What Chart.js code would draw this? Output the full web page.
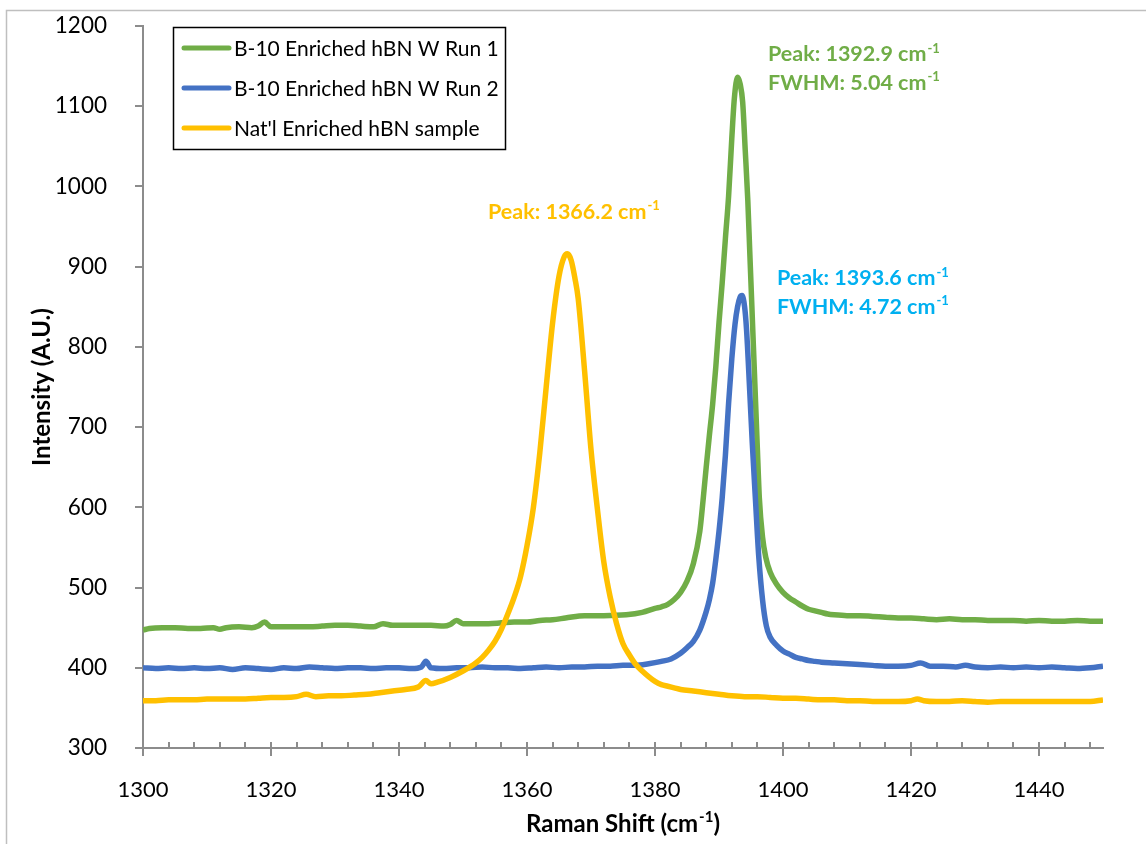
<!DOCTYPE html>
<html>
<head>
<meta charset="utf-8">
<script src="https://cdn.jsdelivr.net/npm/chart.js@4.4.0/dist/chart.umd.min.js"></script>
<style>
  html, body { margin: 0; padding: 0; background: #fff; }
</style>
</head>
<body>
<canvas id="myChart" width="1146" height="844"></canvas>
<script>
    // series names + colours
    const seriesNames = ["B-10 Enriched hBN W Run 1", "B-10 Enriched hBN W Run 2", "Nat'l Enriched hBN sample"];
    const seriesColors = ["#70AD47", "#4472C4", "#FFC000"];

    // Run 1 (green)
    const run1X = [1300,1301,1303,1305,1307,1309,1311,1312,1313,1315,1317,1318,1319,1320,1322,1324,1326,1328,1330,1332,1334,1336,1337.5,1339,1341,1343,1345,1347,1348,1349,1350,1352,1354,1356,1358,1360,1362,1364,1366,1369,1372,1375.5,1378,1380,1381,1382,1383,1384,1385,1386,1387,1387.5,1388,1388.5,1389,1389.5,1390,1390.5,1391,1391.5,1392,1392.4,1392.9,1393.3,1393.7,1394.1,1394.5,1394.8,1395.1,1395.4,1395.7,1396,1396.3,1396.8,1397.3,1398,1399,1400,1401,1402,1403,1404,1405,1406,1407,1408,1410,1412,1414,1416,1418,1420,1422,1424,1426,1428,1430,1432,1434,1436,1438,1440,1442,1444,1446,1448,1450];
    const run1Y = [447,449,450,450,449,449,450,448,450,451,450,452,457,451,451,451,451,452,453,453,452,451,455,453,453,453,453,452,454,459,455,455,455,456,457,457,459,460,462,465,465,466,469,474,476,479,485,494,508,530,570,608,650,690,728,775,830,880,935,988,1060,1110,1136,1128,1105,1045,983,920,858,796,734,672,612,563,538,519,504,494,487,482,477,473,471,469,467,466,465,465,464,463,462,462,461,460,461,460,460,459,459,459,458,459,458,458,459,458,458];

    // Run 2 (blue)
    const run2X = [1300,1302,1304,1306,1308,1310,1312,1314,1316,1318,1320,1322,1324,1326,1328,1330,1332,1334,1336,1338,1340,1342,1343.5,1344.2,1345,1347,1349,1351,1353,1355,1357,1359,1361,1363,1365,1367,1369,1371,1373,1375,1377,1379,1381,1382.5,1384,1385,1386,1387,1388,1388.5,1389,1389.5,1390,1390.5,1391,1391.5,1392,1392.5,1392.9,1393.3,1393.6,1394,1394.3,1394.8,1395.2,1395.7,1396.2,1396.8,1397.4,1398,1399,1400,1401,1402,1403,1404,1405,1406,1408,1410,1412,1414,1416,1418,1420,1421.5,1423,1425,1427,1428.5,1430,1432,1434,1436,1438,1440,1442,1444,1446,1448,1450];
    const run2Y = [400,399,400,399,400,399,400,398,400,399,398,400,399,401,400,399,400,400,399,400,400,399,401,408,400,399,400,400,401,400,400,399,400,401,400,401,401,402,402,403,403,405,408,411,418,425,433,447,470,485,505,535,570,612,665,730,785,828,850,862,864,850,822,745,680,609,540,485,452,438,428,421,417,413,411,409,408,407,406,405,404,403,402,402,403,406,402,402,401,403,401,400,401,400,401,400,401,400,399,400,402];

    // Nat'l sample (yellow)
    const natX = [1300,1302,1304,1306,1308,1310,1312,1314,1316,1318,1320,1322,1324,1325.5,1327,1329,1331,1333,1335,1337,1339,1341,1343,1344.2,1345,1346,1348,1350,1352,1353,1354,1355,1356,1357,1358,1359,1360,1361,1362,1363,1364,1365,1365.8,1366.3,1366.9,1367.5,1368,1369,1370,1371,1372,1373,1374,1375,1376,1377,1378,1379,1380,1381,1382,1383,1384,1386,1388,1390,1392,1394,1396,1398,1400,1402,1404,1406,1408,1410,1412,1414,1416,1418,1420,1421,1422,1424,1426,1428,1430,1432,1434,1436,1438,1440,1442,1444,1446,1448,1450];
    const natY = [359,359,360,360,360,361,361,361,361,362,363,363,364,367,364,365,365,366,367,369,371,373,376,384,380,382,388,396,406,413,422,433,448,467,488,514,552,600,668,750,830,888,912,916,908,885,860,770,672,598,532,488,455,430,416,404,396,389,383,379,377,375,373,371,369,367,365,364,364,363,362,362,361,360,360,359,359,358,358,358,359,361,359,358,358,359,358,357,358,358,358,358,358,358,358,358,360];

    // peak annotations: anchor [x, y] in data units, then text lines
    const peakNotes = [
      { at: [1397.65, 1156], lines: ["Peak: 1392.9 cm", "FWHM: 5.04 cm"], color: "#70AD47" },
      { at: [1399.05, 877], lines: ["Peak: 1393.6 cm", "FWHM: 4.72 cm"], color: "#00B0F0" },
      { at: [1353.9, 960], lines: ["Peak: 1366.2 cm"], color: "#FFC000" }
    ];

    const AXIS = "#8c8c8c";
    const FONT = "Lato, 'Open Sans', sans-serif";

    function toPoints(xs, ys) {
      return xs.map((x, i) => ({ x: x, y: ys[i] }));
    }

    // text followed by a "-1" superscript, returns total width
    function supText(ctx, text, x, y, size) {
      ctx.font = "bold " + size + "px " + FONT;
      ctx.fillText(text, x, y);
      const w = ctx.measureText(text).width;
      ctx.font = "bold " + Math.round(size * 0.62) + "px " + FONT;
      ctx.fillText("-1", x + w + 1, y - size * 0.4);
      return w + 1 + ctx.measureText("-1").width;
    }

    const extras = {
      id: "extras",
      beforeDraw(chart) {
        const ctx = chart.ctx;
        ctx.save();
        ctx.strokeStyle = "#bfbfbf";
        ctx.lineWidth = 1.5;
        ctx.strokeRect(6.5, 10.5, 1300, 1000);
        ctx.restore();
      },
      afterDraw(chart) {
        const { ctx, scales: { x, y }, chartArea: a } = chart;
        ctx.save();

        // tick marks
        ctx.strokeStyle = AXIS;
        ctx.lineWidth = 2;
        ctx.beginPath();
        for (let v = 1300; v < 1450; v += 4) {
          const px = Math.round(x.getPixelForValue(v));
          const major = (v - 1300) % 20 === 0;
          ctx.moveTo(px, a.bottom - 6);
          ctx.lineTo(px, a.bottom + (major ? 8 : 0));
        }
        for (let v = 300; v <= 1200; v += 100) {
          const py = Math.round(y.getPixelForValue(v));
          ctx.moveTo(a.left - 8, py);
          ctx.lineTo(a.left, py);
        }
        ctx.stroke();

        // legend
        ctx.strokeStyle = "#000";
        ctx.lineWidth = 1.5;
        ctx.strokeRect(173.5, 27.5, 332, 122);
        chart.data.datasets.forEach((ds, i) => {
          const ry = 48 + i * 40;
          ctx.strokeStyle = ds.borderColor;
          ctx.lineWidth = 5;
          ctx.lineCap = "round";
          ctx.beginPath();
          ctx.moveTo(184, ry);
          ctx.lineTo(229, ry);
          ctx.stroke();
          ctx.fillStyle = "#000";
          ctx.font = "21px " + FONT;
          ctx.textBaseline = "middle";
          ctx.fillText(ds.label, 234, ry + 1);
        });

        // peak notes
        ctx.textBaseline = "alphabetic";
        peakNotes.forEach(n => {
          const px = x.getPixelForValue(n.at[0]);
          const py = y.getPixelForValue(n.at[1]);
          ctx.fillStyle = n.color;
          n.lines.forEach((t, k) => supText(ctx, t, px, py + k * 28.5, 21.5));
        });

        // x axis title
        ctx.fillStyle = "#000";
        const size = 24;
        ctx.font = "bold " + size + "px " + FONT;
        const w1 = ctx.measureText("Raman Shift (cm").width;
        const w3 = ctx.measureText(")").width;
        ctx.font = "bold " + Math.round(size * 0.62) + "px " + FONT;
        const w2 = ctx.measureText("-1").width;
        const cx = (a.left + a.right) / 2;
        const tx = cx - (w1 + 1 + w2 + w3) / 2;
        const ty = 832;
        const used = supText(ctx, "Raman Shift (cm", tx, ty, size);
        ctx.font = "bold " + size + "px " + FONT;
        ctx.fillText(")", tx + used, ty);

        ctx.restore();
      }
    };

    const ctx = document.getElementById("myChart").getContext("2d");
    const chart = new Chart(ctx, {
      type: "line",
      data: {
        datasets: [
          { label: seriesNames[0], data: toPoints(run1X, run1Y), borderColor: seriesColors[0], order: 3 },
          { label: seriesNames[1], data: toPoints(run2X, run2Y), borderColor: seriesColors[1], order: 2 },
          { label: seriesNames[2], data: toPoints(natX, natY), borderColor: seriesColors[2], order: 1 }
        ]
      },
      options: {
        responsive: false,
        animation: false,
        datasets: {
          line: { borderWidth: 5.5, pointRadius: 0, fill: false, cubicInterpolationMode: "monotone", borderJoinStyle: "round" }
        },
        layout: { padding: { left: 0, top: 26, right: 43, bottom: 0 } },
        plugins: { legend: { display: false }, tooltip: { enabled: false } },
        scales: {
          x: {
            type: "linear",
            min: 1300,
            max: 1450,
            afterBuildTicks: s => { s.ticks = s.ticks.filter(t => (t.value - 1300) % 20 === 0); },
            afterFit: s => { s.height = 96; s.paddingLeft = 0; s.paddingRight = 0; },
            ticks: { stepSize: 20, includeBounds: false, color: "#000", font: { family: FONT, size: 22 }, padding: 21, maxRotation: 0, autoSkip: false, callback: v => String(v) },
            grid: { display: false },
            border: { display: true, color: AXIS, width: 2 }
          },
          y: {
            min: 300,
            max: 1200,
            afterFit: s => { s.width = 143; s.paddingTop = 0; s.paddingBottom = 0; },
            ticks: { stepSize: 100, color: "#000", font: { family: FONT, size: 22.5 }, padding: 28, callback: v => String(v) },
            grid: { display: false },
            border: { display: true, color: AXIS, width: 2 },
            title: { display: true, text: "Intensity (A.U.)", color: "#000", font: { family: FONT, size: 24, weight: "bold" }, padding: { top: 28, bottom: 0 } }
          }
        }
      },
      plugins: [extras]
    });
</script>
</body>
</html>
